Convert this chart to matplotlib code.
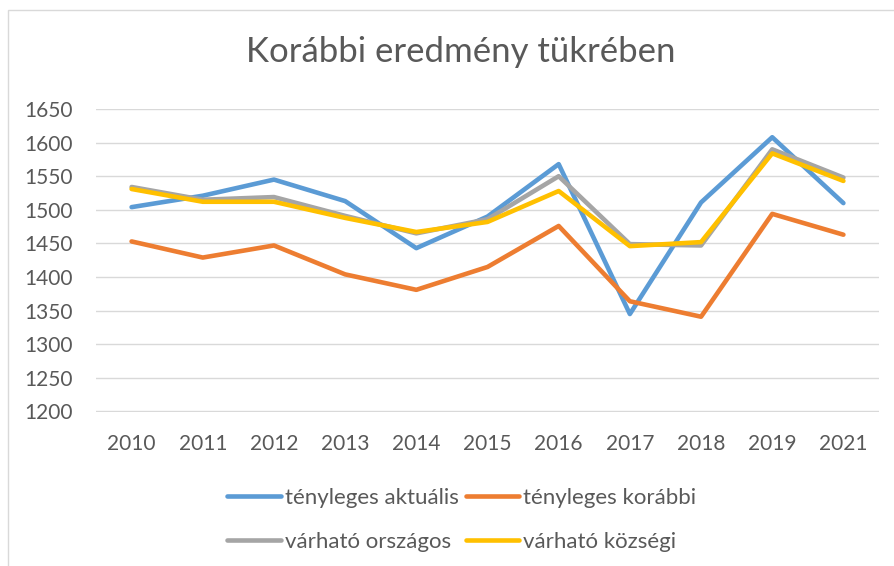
import matplotlib
matplotlib.use("Agg")
import matplotlib.pyplot as plt
from matplotlib.patches import Rectangle

years = ["2010", "2011", "2012", "2013", "2014", "2015", "2016", "2017", "2018", "2019", "2021"]
tenyleges_aktualis = [1504, 1521, 1545, 1513, 1443, 1490, 1568, 1345, 1511, 1608, 1510]
tenyleges_korabbi = [1453, 1429, 1447, 1404, 1381, 1415, 1476, 1364, 1341, 1494, 1463]
varhato_orszagos = [1534, 1515, 1519, 1491, 1465, 1486, 1550, 1449, 1447, 1590, 1548]
varhato_kozsegi = [1531, 1512, 1512, 1488, 1467, 1482, 1528, 1446, 1452, 1584, 1543]
series_names = ["tényleges aktuális", "tényleges korábbi", "várható országos", "várható községi"]
yticks = [1200, 1250, 1300, 1350, 1400, 1450, 1500, 1550, 1600, 1650]

colors = ["#5B9BD5", "#ED7D31", "#A5A5A5", "#FFC000"]
text_color = "#595959"
grid_color = "#D9D9D9"

plt.rcParams['font.family'] = ['Lato', 'DejaVu Sans']

W, H = 894, 566
fig = plt.figure(figsize=(W / 100, H / 100), dpi=100)

# chart border
fig.patches.append(Rectangle((7.5 / W, -0.1), 1.2, 1 - 10 / H + 0.1,
                             transform=fig.transFigure, fill=False,
                             edgecolor=grid_color, lw=1.0))

left, right, top, bottom = 96, 879, 109, 411.5
ax = fig.add_axes([left / W, 1 - bottom / H, (right - left) / W, (bottom - top) / H])

x = list(range(len(years)))
handles = []
for data, c, name in zip([tenyleges_aktualis, tenyleges_korabbi, varhato_orszagos, varhato_kozsegi],
                         colors, series_names):
    h, = ax.plot(x, data, color=c, lw=3.3, solid_capstyle='round', solid_joinstyle='round',
                 label=name, zorder=3)
    handles.append(h)

ax.set_xlim(-0.5, len(years) - 0.5)
ax.set_ylim(1200, 1650)
ax.set_yticks(yticks)
ax.set_yticklabels([str(v) for v in yticks])
ax.set_xticks(x)
ax.set_xticklabels(years)
ax.tick_params(axis='both', length=0, labelsize=15, labelcolor=text_color)
ax.tick_params(axis='y', pad=16.5)
ax.tick_params(axis='x', pad=16.5)
for s in ax.spines.values():
    s.set_visible(False)
ax.grid(axis='y', color=grid_color, lw=1.0, zorder=0)
ax.set_axisbelow(True)

fig.text(460.5 / W, 1 - 52 / H, "Korábbi eredmény tükrében", ha='center', va='center',
         fontsize=25, color=text_color)

# row-major order for a 2-column legend
order = [0, 2, 1, 3]
leg = ax.legend([handles[i] for i in order], [series_names[i] for i in order],
                loc='center', bbox_to_anchor=(462 / W, 1 - 520 / H),
                bbox_transform=fig.transFigure, ncol=2, frameon=False,
                fontsize=16, handlelength=2.4, handletextpad=0.2,
                columnspacing=0.3, labelspacing=1.1, borderpad=0)
for t in leg.get_texts():
    t.set_color(text_color)
for l in leg.get_lines():
    l.set_linewidth(3.3)
    l.set_solid_capstyle('round')

fig.savefig("out.png", dpi=100)
